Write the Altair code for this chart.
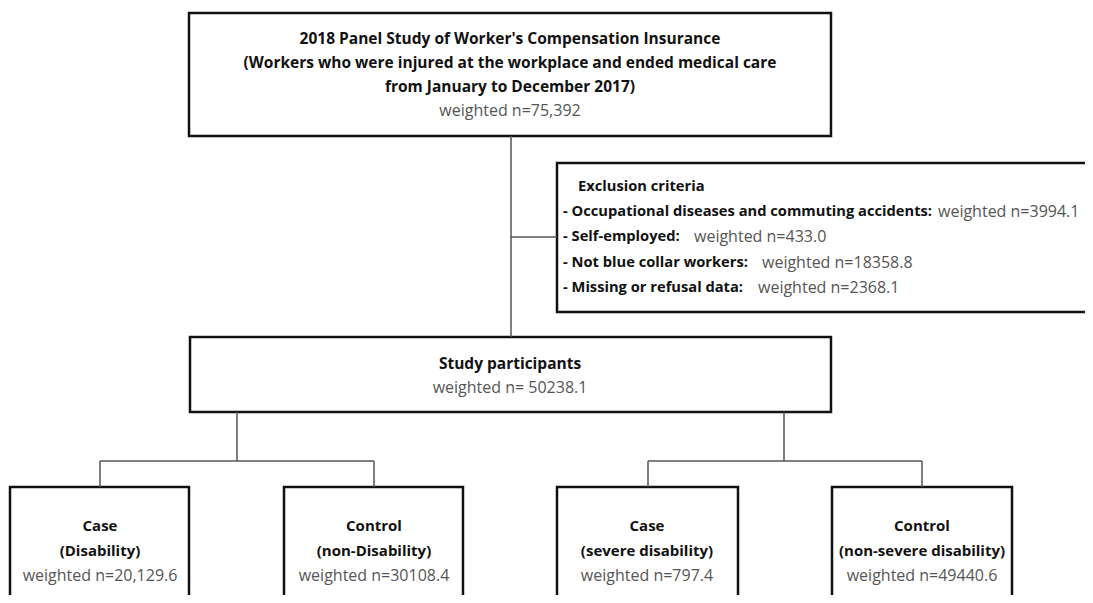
import altair as alt
import pandas as pd

# ---- content ----
top_title_lines = [
    "2018 Panel Study of Worker's Compensation Insurance",
    "(Workers who were injured at the workplace and ended medical care",
    "from January to December 2017)",
]
top_n = "weighted n=75,392"
study_title = "Study participants"
study_n = "weighted n= 50238.1"
excl_header = "Exclusion criteria"
excl_labels = [
    "- Occupational diseases and commuting accidents:",
    "- Self-employed:",
    "- Not blue collar workers:",
    "- Missing or refusal data:",
]
excl_values = ["3994.1", "433.0", "18358.8", "2368.1"]
group_titles = ["Case", "Control", "Case", "Control"]
group_subtitles = ["(Disability)", "(non-Disability)", "(severe disability)", "(non-severe disability)"]
group_values = ["20,129.6", "30108.4", "797.4", "49440.6"]

# ---- layout (pixel positions in the page) ----
box_x = [189, 557, 190, 10, 284, 557, 832]
box_x2 = [831, 1120, 831, 189, 463, 738, 1012]
box_y = [13, 163, 337, 487, 487, 487, 487]
box_y2 = [136, 312, 412, 640, 640, 640, 640]

rule_x = [511, 511, 237, 100, 100, 374, 784, 648, 648, 922]
rule_x2 = [511, 557, 237, 374, 100, 374, 784, 922, 648, 922]
rule_y = [136, 237, 412, 461, 461, 461, 412, 461, 461, 461]
rule_y2 = [337, 237, 461, 461, 487, 487, 461, 461, 487, 487]

top_line_y = [39, 63, 87]
top_n_y = 111
center_x = 510
study_y = [364, 388]
group_cx = [100, 374, 647, 922]
group_y = [526, 551, 576]
excl_header_xy = (578, 187)
excl_label_x = 563
excl_value_x = [938, 694, 762, 758]
excl_y = [212, 237, 263, 288]

BOLD = "#111111"
GRAY = "#555555"
FONT = "Open Sans"

boxes = pd.DataFrame({"x": box_x, "x2": box_x2, "y": box_y, "y2": box_y2})
rules = pd.DataFrame({"x": rule_x, "x2": rule_x2, "y": rule_y, "y2": rule_y2})

bold_top = []
bold_grp = []
norm_c = []
for t, y in zip(top_title_lines, top_line_y):
    bold_top.append({"x": center_x, "y": y, "t": t})
norm_c.append({"x": center_x, "y": top_n_y, "t": top_n})
bold_top.append({"x": center_x, "y": study_y[0], "t": study_title})
norm_c.append({"x": center_x, "y": study_y[1], "t": study_n})
for cx, a, b, v in zip(group_cx, group_titles, group_subtitles, group_values):
    bold_grp.append({"x": cx, "y": group_y[0], "t": a})
    bold_grp.append({"x": cx, "y": group_y[1], "t": b})
    norm_c.append({"x": cx, "y": group_y[2], "t": "weighted n=" + v})

bold_l = [{"x": excl_header_xy[0], "y": excl_header_xy[1], "t": excl_header}]
norm_l = []
for lab, v, vx, y in zip(excl_labels, excl_values, excl_value_x, excl_y):
    bold_l.append({"x": excl_label_x, "y": y, "t": lab})
    norm_l.append({"x": vx, "y": y, "t": "weighted n=" + v})

W, H = 1077, 587
xs = alt.Scale(domain=[8, 8 + W], nice=False, zero=False)
ys = alt.Scale(domain=[8, 8 + H], nice=False, zero=False, reverse=True)
X = lambda f: alt.X(f, type="quantitative", scale=xs, axis=None)
Y = lambda f: alt.Y(f, type="quantitative", scale=ys, axis=None)

rect_layer = alt.Chart(boxes).mark_rect(
    fill="white", stroke="#111111", strokeWidth=2.5
).encode(x=X("x"), x2="x2", y=Y("y"), y2="y2")

rule_layer = alt.Chart(rules).mark_rule(
    stroke="#555555", strokeWidth=1.5
).encode(x=X("x"), x2="x2", y=Y("y"), y2="y2")

def text_layer(rows, weight, color, align, size):
    return alt.Chart(pd.DataFrame(rows)).mark_text(
        font=FONT, fontSize=size, fontWeight=weight, color=color,
        align=align, baseline="middle"
    ).encode(x=X("x"), y=Y("y"), text="t:N")

chart = alt.layer(
    rect_layer,
    rule_layer,
    text_layer(bold_top, "bold", BOLD, "center", 15.5),
    text_layer(bold_grp, "bold", BOLD, "center", 15),
    text_layer(norm_c, "normal", GRAY, "center", 16),
    text_layer(bold_l, "bold", BOLD, "left", 14.7),
    text_layer(norm_l, "normal", GRAY, "left", 16),
).properties(
    width=W, height=H, padding=0, autosize=alt.AutoSizeParams(type="none"),
    view=alt.ViewBackground(stroke="transparent", strokeWidth=0, fill="white"),
).configure(
    background="white",
    style={"cell": {"stroke": "transparent", "strokeWidth": 0}},
).configure_view(stroke="transparent", strokeWidth=0)

chart.save("out.html", embed_options={"renderer": "svg", "actions": False})
